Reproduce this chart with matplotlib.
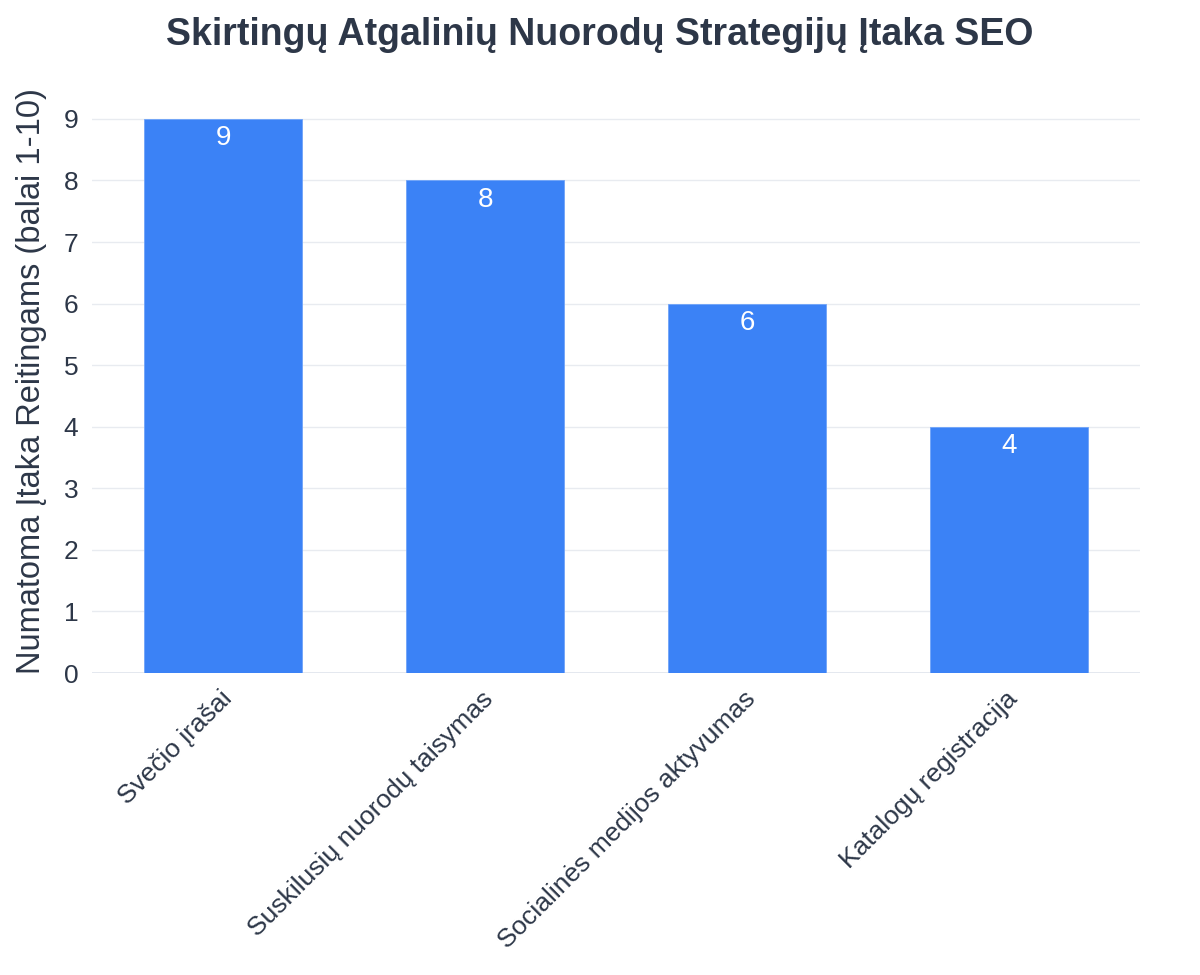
import matplotlib.pyplot as plt
from matplotlib.transforms import ScaledTranslation

plt.rcParams['font.family'] = ['Liberation Sans', 'DejaVu Sans']

# chart data
strategies = ['Svečio įrašai', 'Suskilusių nuorodų taisymas',
              'Socialinės medijos aktyvumas', 'Katalogų registracija']
impact = [9, 8, 6, 4]
y_ticks = [0, 1, 2, 3, 4, 5, 6, 7, 8, 9]

text_color = '#2d3748'
bar_color = '#3b82f6'
grid_color = '#e8ebf0'

fig = plt.figure(figsize=(12, 9.75), dpi=100)
ax = fig.add_axes([0.0767, 0.3097, 0.8733, 0.598])

x = range(len(strategies))
bars = ax.bar(x, impact, width=0.6, color=bar_color, edgecolor='#6fa3f8',
              linewidth=0.6, zorder=3)

for rect, val in zip(bars, impact):
    ax.annotate(str(val), (rect.get_x() + rect.get_width() / 2, val),
                xytext=(0, -14), textcoords='offset points',
                ha='center', va='center', color='white', fontsize=20, zorder=4)

ax.set_xlim(-0.5, 3.5)
ax.set_ylim(0, 9.47)
ax.set_yticks(y_ticks)
ax.set_xticks(list(x))
ax.set_xticklabels([])

# rotated category labels, placed so their ends sit just right of each tick
shift = ScaledTranslation(5 / 100, -22 / 100, fig.dpi_scale_trans)
for i, name in enumerate(strategies):
    ax.text(i, 0, name, transform=ax.get_xaxis_transform() + shift,
            rotation=45, ha='right', va='center', rotation_mode='anchor',
            fontsize=19, color=text_color)

ax.grid(axis='y', color=grid_color, linewidth=1, zorder=0)
ax.axhline(0, color='#e2e6ee', linewidth=2, zorder=2)
for s in ax.spines.values():
    s.set_visible(False)
ax.tick_params(axis='both', length=0, labelsize=19, colors=text_color)
ax.tick_params(axis='y', pad=10)

ax.set_ylabel('Numatoma Įtaka Reitingams (balai 1-10)', fontsize=23.5,
              color=text_color, labelpad=12)
fig.suptitle('Skirtingų Atgalinių Nuorodų Strategijų Įtaka SEO', fontsize=27,
             fontweight='bold', color=text_color, x=0.5, y=0.983, va='top')

fig.savefig('out.png', dpi=100, facecolor='white')
